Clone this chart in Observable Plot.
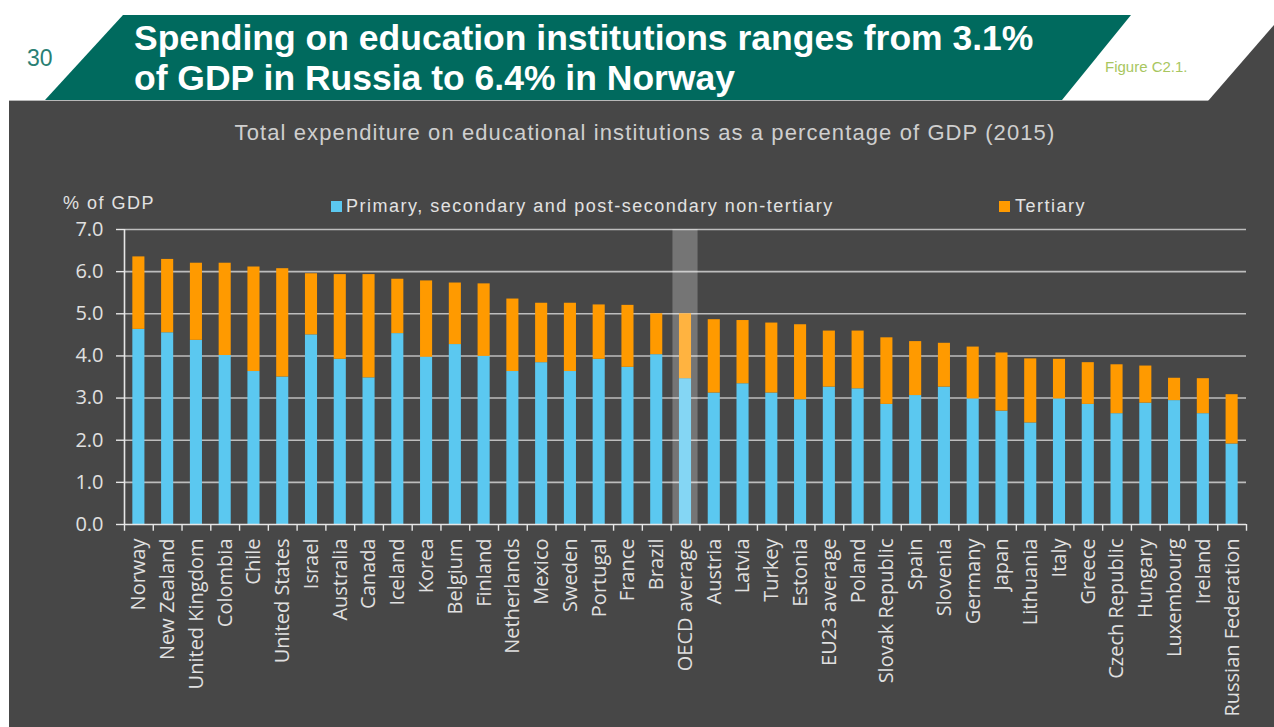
<!DOCTYPE html>
<html>
<head>
<meta charset="utf-8">
<script src="https://cdn.jsdelivr.net/npm/d3@7"></script>
<script src="https://cdn.jsdelivr.net/npm/@observablehq/plot@0.6"></script>
<style>
  html, body { margin: 0; padding: 0; background: #ffffff; }
  #wrap { position: relative; width: 1274px; height: 727px; overflow: hidden; }
  #bg, #chart { position: absolute; left: 0; top: 0; }
</style>
</head>
<body>
<div id="wrap">
  <svg id="bg" width="1274" height="727" xmlns="http://www.w3.org/2000/svg"></svg>
  <div id="chart"></div>
</div>
<script>
// ---------- data ----------
const categories = ["Norway","New Zealand","United Kingdom","Colombia","Chile","United States","Israel","Australia","Canada","Iceland","Korea","Belgium","Finland","Netherlands","Mexico","Sweden","Portugal","France","Brazil","OECD average","Austria","Latvia","Turkey","Estonia","EU23 average","Poland","Slovak Republic","Spain","Slovenia","Germany","Japan","Lithuania","Italy","Greece","Czech Republic","Hungary","Luxembourg","Ireland","Russian Federation"];
const primary = [4.63,4.55,4.37,4.01,3.63,3.50,4.50,3.92,3.48,4.53,3.97,4.27,3.99,3.63,3.84,3.63,3.92,3.73,4.03,3.46,3.12,3.34,3.12,2.96,3.26,3.22,2.85,3.06,3.26,2.98,2.69,2.41,2.98,2.85,2.63,2.88,2.94,2.63,1.91];
const tertiary = [1.72,1.74,1.83,2.19,2.48,2.57,1.45,2.01,2.45,1.29,1.81,1.46,1.72,1.72,1.41,1.62,1.29,1.47,0.97,1.54,1.74,1.50,1.66,1.78,1.33,1.37,1.58,1.28,1.04,1.23,1.38,1.52,0.94,0.99,1.16,0.88,0.53,0.83,1.17];
const seriesNames = ["Primary, secondary and post-secondary non-tertiary","Tertiary"];
const seriesColors = ["#5bc8f0","#ff9a00"];
const yTicks = [0,1,2,3,4,5,6,7];
const highlighted = ["OECD average"];
const titleLines = ["Spending on education institutions ranges from 3.1%","of GDP in Russia to 6.4% in Norway"];
const subtitle = "Total expenditure on educational institutions as a percentage of GDP (2015)";
const yLabel = "% of GDP";
const pageNumber = "30";
const figureRef = "Figure C2.1.";

const data = categories.flatMap((c, i) => [
  {country: c, series: seriesNames[0], value: primary[i]},
  {country: c, series: seriesNames[1], value: tertiary[i]}
]);

// ---------- background / header / legend (decorative) ----------
const NS = "http://www.w3.org/2000/svg";
const bg = document.getElementById("bg");
function el(tag, attrs, text) {
  const e = document.createElementNS(NS, tag);
  for (const k in attrs) e.setAttribute(k, attrs[k]);
  if (text != null) e.textContent = text;
  bg.appendChild(e);
  return e;
}
const DARK = "#474747";
const SANS = "Liberation Sans, Arial, sans-serif";
el("rect", {x: 9, y: 101, width: 1265, height: 626, fill: DARK});
el("line", {x1: 9, x2: 1274, y1: 100.5, y2: 100.5, stroke: "#b8b8b8", "stroke-width": 1});
el("polygon", {points: "45,100 123,15 1131,15 1062,100", fill: "#006a5e"});
el("polygon", {points: "1208,101 1274,25 1274,101", fill: DARK});
el("text", {x: 27, y: 66, "font-family": SANS, "font-size": 23, fill: "#2a7f74"}, pageNumber);
titleLines.forEach((t, i) => el("text", {x: 134, y: 50 + i * 40, "font-family": SANS, "font-weight": "bold", "font-size": 35.5, fill: "#ffffff"}, t));
el("text", {x: 1105, y: 72, "font-family": SANS, "font-size": 15, fill: "#a8c660"}, figureRef);
el("text", {x: 645, y: 140, "text-anchor": "middle", "font-family": SANS, "font-size": 22, "letter-spacing": 1.1, fill: "#cfcfcf"}, subtitle);
el("text", {x: 63, y: 209, "font-family": SANS, "font-size": 18, "letter-spacing": 1.5, fill: "#e2e2e2"}, yLabel);
const legendPos = [{sx: 331, tx: 346}, {sx: 999, tx: 1015}];
seriesNames.forEach((s, i) => {
  el("rect", {x: legendPos[i].sx, y: 201, width: 11, height: 11, fill: seriesColors[i]});
  el("text", {x: legendPos[i].tx, y: 212, "font-family": SANS, "font-size": 18, "letter-spacing": 1.5, fill: "#e2e2e2"}, s);
});

// ---------- chart ----------
const W = 1274, H = 727, mL = 124, mR = 28, mT = 229, mB = 203;
const step = (W - mL - mR) / categories.length;
const AX = "#e6e6e6";

const chart = Plot.plot({
  width: W, height: H,
  marginLeft: mL, marginRight: mR, marginTop: mT, marginBottom: mB,
  style: {background: "transparent", color: "#e0e0e0", fontFamily: "'Open Sans', sans-serif", fontSize: "20px", overflow: "visible"},
  x: {domain: categories, paddingInner: 0.58, paddingOuter: 0.29, round: false},
  y: {domain: [0, 7]},
  color: {domain: seriesNames, range: seriesColors},
  marks: [
    Plot.ruleY(yTicks.slice(1), {stroke: "#bdbdbd", strokeWidth: 1.6}),
    Plot.barY(data, {x: "country", y: "value", fill: "series"}),
    Plot.barY(highlighted, {x: d => d, y1: 0, y2: 7, fill: "#ffffff", fillOpacity: 0.25, insetLeft: -6.5, insetRight: -6.5}),
    Plot.ruleY([0], {stroke: AX, strokeWidth: 1.6}),
    Plot.ruleX([categories[0]], {x: d => d, dx: -step / 2, y1: 0, y2: 7, stroke: AX, strokeWidth: 1.6}),
    Plot.ruleX(categories, {x: d => d, dx: -step / 2, y1: 0, y2: -0.16, stroke: AX, strokeWidth: 1.4}),
    Plot.ruleX([categories[categories.length - 1]], {x: d => d, dx: step / 2, y1: 0, y2: -0.16, stroke: AX, strokeWidth: 1.4}),
    Plot.axisX({tickSize: 0, tickPadding: 14, tickRotate: -90, label: null, fontSize: 20}),
    Plot.axisY({ticks: yTicks, tickFormat: d => d.toFixed(1), tickSize: 8, tickPadding: 13, label: null, fontSize: 20, stroke: AX, strokeWidth: 1.4})
  ]
});
document.getElementById("chart").appendChild(chart);
</script>
</body>
</html>
